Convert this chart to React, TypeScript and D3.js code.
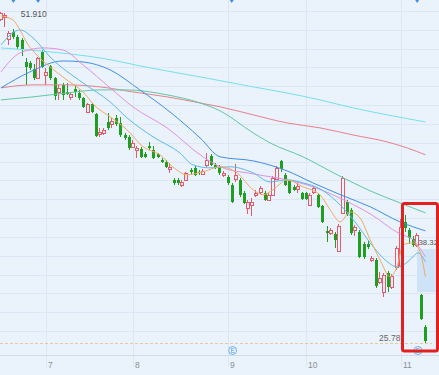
import React from 'react';
import * as d3 from 'd3';

const W = 439;
const H = 375;

// month axis
const monthLabels = ['7', '8', '9', '10', '11'];
const monthIdx = [11, 32, 55, 74, 97];

// daily OHLC (index 0 .. 103)
const opens = [
  51.36, 51.52, 49.78, 50.33, 49.94, 49.70, 47.96, 47.88, 47.41, 46.70,
  48.75, 46.94, 47.65, 46.70, 45.59, 46.15, 45.59, 45.20, 45.83, 45.51,
  45.12, 44.01, 44.64, 43.85, 42.27, 42.35, 43.22, 43.06, 43.54, 43.14,
  42.19, 42.04, 41.25, 41.01, 41.09, 40.69, 41.33, 41.01, 40.69, 40.22,
  40.06, 39.51, 38.64, 38.64, 38.25, 38.64, 39.43, 39.59, 39.27, 39.11,
  39.83, 40.54, 39.83, 39.67, 39.04, 38.88, 38.25, 38.72, 38.64, 37.61,
  36.43, 36.66, 37.46, 37.69, 37.61, 37.06, 37.46, 38.72, 40.14, 39.04,
  38.56, 38.09, 37.93, 37.61, 37.61, 36.66, 37.69, 37.46, 36.59, 34.61,
  34.45, 34.37, 33.03, 36.03, 36.90, 36.27, 34.69, 34.53, 33.58, 33.58,
  32.32, 32.32, 30.58, 29.79, 31.29, 30.19, 31.77, 31.85, 35.32, 34.69,
  33.98, 33.50, 29.55, 27.03,
];
const closes = [
  51.83, 51.68, 50.25, 49.94, 49.15, 48.99, 47.57, 47.49, 46.70, 48.28,
  47.57, 47.17, 46.70, 45.28, 45.91, 45.36, 45.43, 45.43, 45.59, 45.12,
  44.41, 44.64, 44.01, 42.12, 42.43, 42.59, 42.75, 43.30, 43.06, 42.19,
  41.96, 41.17, 41.56, 41.17, 40.46, 40.46, 41.17, 40.38, 40.46, 40.06,
  39.67, 39.67, 38.40, 38.40, 38.48, 39.19, 39.27, 39.04, 39.19, 39.35,
  40.22, 39.83, 39.59, 39.19, 39.19, 38.40, 36.90, 39.04, 37.46, 36.82,
  36.90, 36.90, 37.61, 38.01, 37.06, 37.46, 38.80, 39.59, 39.51, 38.25,
  37.61, 37.85, 38.17, 37.14, 37.14, 37.46, 38.01, 36.51, 35.32, 34.45,
  34.69, 33.90, 35.01, 38.80, 35.95, 34.45, 34.93, 32.56, 32.56, 33.35,
  32.48, 30.27, 30.90, 31.13, 30.19, 31.06, 33.27, 34.93, 34.85, 34.06,
  33.50, 34.30, 27.66, 25.92,
];
const highs = [
  51.91, 51.87, 50.41, 50.57, 50.10, 49.86, 48.28, 48.04, 47.80, 48.36,
  48.91, 47.49, 47.73, 46.78, 46.15, 46.30, 46.30, 45.59, 46.15, 45.75,
  45.20, 44.72, 44.72, 43.93, 42.75, 42.75, 43.93, 43.54, 43.78, 43.62,
  42.35, 42.19, 41.80, 41.33, 41.25, 40.85, 41.64, 41.33, 40.77, 40.38,
  40.22, 39.98, 38.80, 38.80, 38.64, 39.27, 39.59, 39.75, 39.43, 39.51,
  40.77, 40.69, 39.98, 39.83, 39.35, 39.04, 38.40, 39.90, 38.80, 37.77,
  37.06, 37.22, 37.85, 38.17, 37.77, 37.61, 38.96, 39.75, 40.22, 39.19,
  38.64, 38.25, 38.40, 37.69, 37.69, 37.61, 38.17, 37.61, 36.66, 35.01,
  34.85, 34.53, 35.16, 38.96, 37.06, 36.43, 35.09, 34.69, 33.74, 33.82,
  32.64, 32.48, 31.37, 31.29, 31.45, 31.21, 33.43, 35.56, 35.88, 34.85,
  34.22, 34.45, 29.63, 27.19,
];
const lows = [
  51.20, 50.73, 49.31, 49.78, 48.99, 48.44, 46.15, 47.33, 46.54, 46.62,
  47.49, 46.15, 46.54, 44.96, 44.96, 44.96, 45.36, 44.96, 45.20, 44.96,
  44.33, 43.93, 43.93, 42.04, 42.04, 42.19, 42.59, 42.75, 42.91, 42.04,
  41.80, 41.01, 41.17, 40.38, 40.38, 40.38, 41.01, 40.30, 40.38, 39.98,
  39.59, 39.19, 38.25, 38.25, 38.09, 38.56, 39.11, 38.96, 39.04, 39.04,
  39.67, 39.75, 39.51, 39.04, 38.88, 38.25, 36.82, 38.48, 37.30, 36.74,
  35.95, 35.80, 37.30, 37.53, 36.98, 36.98, 37.38, 38.64, 39.27, 38.17,
  37.53, 37.77, 37.61, 37.06, 37.06, 36.59, 37.53, 36.43, 35.24, 33.74,
  34.30, 33.27, 32.95, 35.95, 35.80, 34.30, 34.22, 32.48, 32.40, 33.19,
  32.16, 30.11, 30.42, 29.40, 29.79, 30.03, 31.53, 31.77, 34.53, 33.58,
  33.35, 33.35, 27.58, 25.78,
];

// moving averages: [candle index, value]
const ma5: [number, number][] = [
  [0, 51.6], [2.9, 51.28], [4.6, 50.49], [6.3, 49.46], [8.7, 48.51], [11.9, 47.57],
  [16, 46.54], [19.9, 45.59], [22.8, 44.49], [26.5, 43.62], [30.6, 42.59], [34.5, 41.25],
  [38.6, 40.62], [41.7, 39.67], [45.1, 39.04], [49, 39.27], [53.2, 39.67], [57.3, 39.19],
  [61.2, 37.85], [63.6, 37.46], [66, 37.85], [69.4, 38.64], [73.3, 38.09], [77.4, 37.46],
  [79.9, 36.27], [82.3, 35.32], [84.7, 36.11], [87.1, 35.64], [89.6, 33.9], [92, 32.32],
  [94.4, 30.98], [96.1, 31.77], [97.6, 33.5], [100, 33.66], [101.7, 32.95], [103, 30.98],
];
const ma10: [number, number][] = [
  [0, 49.31], [4.6, 50.49], [7.8, 49.86], [11.9, 48.36], [19.9, 46.3], [26.5, 44.8],
  [30.6, 43.54], [36.9, 42.04], [43.4, 40.77], [46.6, 39.82], [50.7, 39.59], [55.6, 39.67],
  [61.2, 39.19], [65.3, 38.48], [69.4, 38.64], [73.3, 38.4], [77.4, 37.93], [82.3, 36.66],
  [85.9, 35.32], [89.6, 33.66], [93.2, 32.32], [96.1, 31.77], [98.1, 32.0], [100, 32.56],
  [101.2, 32.87], [103, 32.16],
];
const ma20: [number, number][] = [
  [0, 47.17], [4.6, 48.67], [10.2, 49.07], [15, 48.91], [19.9, 47.73], [26.5, 45.91],
  [32, 44.41], [40.3, 42.75], [49, 40.46], [53.2, 39.67], [61.2, 39.11], [69.4, 38.64],
  [75.7, 38.09], [81.6, 37.3], [89.6, 35.95], [96.8, 34.37], [100, 33.9], [103, 32.56],
];
const ma30: [number, number][] = [
  [0, 45.91], [7, 47.17], [15, 48.04], [19.9, 47.96], [26.5, 47.33], [33.7, 45.75],
  [41, 44.01], [48.3, 41.96], [53.2, 40.46], [61.2, 40.14], [69.4, 39.35], [75.7, 38.4],
  [83, 37.38], [89.6, 36.51], [96.8, 35.32], [103, 34.61],
];
const ma60: [number, number][] = [
  [0, 44.96], [7.8, 45.2], [16, 45.51], [24, 45.75], [30.6, 45.75], [40.3, 45.36],
  [48.3, 44.72], [53.2, 44.09], [61.2, 42.35], [65.3, 41.56], [73.3, 40.46], [81.6, 39.04],
  [89.6, 37.77], [96.8, 36.82], [103, 36.03],
];
const ma120: [number, number][] = [
  [0, 45.91], [7.8, 46.15], [16, 46.15], [24, 45.99], [32, 45.59], [40.3, 45.2],
  [48.3, 44.72], [53.2, 44.41], [61.2, 43.78], [69.4, 43.14], [77.4, 42.75], [85.4, 42.19],
  [93.7, 41.64], [98.5, 41.17], [103, 40.62],
];
const ma250: [number, number][] = [
  [0, 49.07], [12.1, 48.75], [24, 48.28], [36.2, 47.49], [48.3, 46.78], [61.2, 45.99],
  [69.4, 45.51], [77.4, 44.96], [85.4, 44.33], [93.7, 43.78], [103, 43.22],
];

const maSeries = [
  { name: 'MA250', data: ma250, color: '#74e0ee' },
  { name: 'MA120', data: ma120, color: '#e98088' },
  { name: 'MA60', data: ma60, color: '#62c7a2' },
  { name: 'MA30', data: ma30, color: '#3f8fe4' },
  { name: 'MA20', data: ma20, color: '#e28fe0' },
  { name: 'MA10', data: ma10, color: '#5bb9ea' },
  { name: 'MA5', data: ma5, color: '#f2a863' },
];

// earnings markers (candle indices)
const earningsIdx = [55, 100];
const topMarkIdx = [3, 9, 56, 101];
const annotationPrice = '38.32';

const BG = '#eaf3fc';
const GRID = '#dbe7f4';
const UP = '#e35a68';
const DOWN = '#1f9e22';
const FONT = 'Liberation Sans, Arial, sans-serif';

export default function App() {
  const n = opens.length;
  const x = d3.scaleLinear().domain([0, n - 1]).range([1, 425.4]);
  const y = d3.scaleLinear().domain([25.78, 51.91]).range([342.5, 12]);

  const maxHigh = d3.max(highs) as number;
  const minLow = d3.min(lows) as number;
  const gridPrices = d3.range(0, 18).map((k) => 51.99 - 1.489 * k);

  const line = d3
    .line<[number, number]>()
    .x((d) => x(d[0]))
    .y((d) => y(d[1]))
    .curve(d3.curveMonotoneX);

  const axisY = 355.5;

  return (
    <div style={{ position: 'absolute', left: 0, top: 0, width: W, height: H }}>
      <svg width={W} height={H} style={{ display: 'block', background: BG }}>
        <rect x={0} y={0} width={W} height={H} fill={BG} />
        {/* horizontal grid */}
        {gridPrices.map((p, i) => (
          <line key={'g' + i} x1={0} x2={W} y1={Math.round(y(p)) + 0.5} y2={Math.round(y(p)) + 0.5} stroke={GRID} strokeWidth={1} />
        ))}
        {/* vertical month grid */}
        {monthIdx.map((mi, i) => (
          <line key={'v' + i} x1={Math.round(x(mi)) + 0.5} x2={Math.round(x(mi)) + 0.5} y1={0} y2={367} stroke={GRID} strokeWidth={1} />
        ))}
        {/* axis line */}
        <line x1={0} x2={W} y1={axisY} y2={axisY} stroke="#d3dce6" strokeWidth={1} />
        {monthLabels.map((m, i) => (
          <text key={'m' + i} x={Math.round(x(monthIdx[i])) + 2} y={367.5} fontSize={8.5} fill="#8a8f96" fontFamily={FONT}>
            {m}
          </text>
        ))}

        {/* shaded annotation box */}
        <rect x={417} y={249} width={22} height={43} fill="#cfe3f8" />

        {/* min dashed line */}
        <line x1={0} x2={432} y1={Math.round(y(minLow)) + 0.5} y2={Math.round(y(minLow)) + 0.5} stroke="#e6c9a2" strokeWidth={1} strokeDasharray="3,2" />

        {/* candles */}
        {opens.map((o, i) => {
          const c = closes[i];
          const h = highs[i];
          const l = lows[i];
          const cx = Math.round(x(i));
          const up = c >= o;
          const top = Math.round(y(Math.max(o, c)));
          const bot = Math.round(y(Math.min(o, c)));
          const yh = Math.round(y(h));
          const yl = Math.round(y(l));
          const bh = Math.max(1, bot - top);
          if (up) {
            return (
              <g key={'c' + i}>
                <line x1={cx - 0.5} x2={cx - 0.5} y1={yh} y2={top} stroke={UP} strokeWidth={1} />
                <line x1={cx - 0.5} x2={cx - 0.5} y1={top + bh} y2={yl} stroke={UP} strokeWidth={1} />
                <rect x={cx - 1.5} y={top + 0.5} width={3} height={bh} fill={BG} stroke={UP} strokeWidth={1} />
              </g>
            );
          }
          return (
            <g key={'c' + i}>
              <line x1={cx + 0.5} x2={cx + 0.5} y1={yh} y2={yl} stroke={DOWN} strokeWidth={1} />
              <rect x={cx - 1} y={top} width={3} height={bh} fill={DOWN} />
            </g>
          );
        })}

        {/* moving averages */}
        {maSeries.map((s) => (
          <path key={s.name} d={line(s.data) || ''} fill="none" stroke={s.color} strokeWidth={1} />
        ))}

        {/* labels */}
        <text x={x(0) + 19.7} y={17} fontSize={8.5} fill="#555" fontFamily={FONT}>
          {maxHigh.toFixed(3)}
        </text>
        <text x={x(n - 1) - 25} y={y(minLow) - 1.5} textAnchor="end" fontSize={8.5} fill="#666" fontFamily={FONT}>
          {minLow.toFixed(2)}
        </text>
        <text x={418.5} y={245} fontSize={7.8} fill="#555" fontFamily={FONT}>
          {annotationPrice}
        </text>

        {/* earnings markers */}
        {earningsIdx.map((ei, i) => {
          const ex = x(ei) + 5;
          return (
            <g key={'e' + i}>
              <circle cx={ex} cy={350.5} r={4} fill="#eaf3fc" stroke="#5a9ce6" strokeWidth={0.8} />
              <text x={ex} y={353} textAnchor="middle" fontSize={6.5} fill="#5a9ce6" fontFamily={FONT}>
                E
              </text>
            </g>
          );
        })}
        {topMarkIdx.map((ti, i) => (
          <path key={'t' + i} d={`M${x(ti) - 2},0 L${x(ti) + 2},0 L${x(ti)},3 Z`} fill="#3d8ee6" />
        ))}

        {/* red highlight box */}
        <rect x={402.5} y={203.5} width={35} height={147.5} rx={2} fill="none" stroke="#e3201f" strokeWidth={3} />
      </svg>
    </div>
  );
}
